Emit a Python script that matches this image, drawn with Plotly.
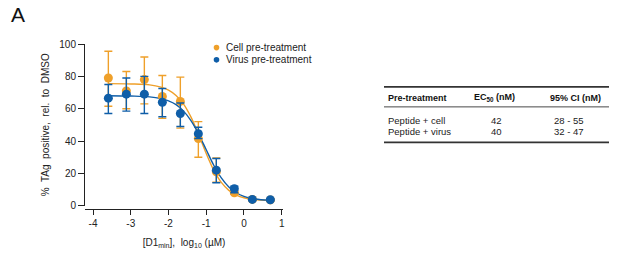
import plotly.graph_objects as go

# ---------------- data ----------------
log_conc = [-3.594, -3.117, -2.640, -2.163, -1.686, -1.209, -0.732, -0.255, 0.222, 0.699]

cell_mean = [79.0, 71.0, 78.0, 67.5, 64.5, 41.5, 21.0, 8.0, 3.9, 3.6]
cell_hi = [95.5, 83.0, 92.0, 80.5, 79.5, 52.0, 29.5, 9.0, 4.4, 4.0]
cell_lo = [61.5, 60.0, 63.0, 54.0, 48.0, 30.0, 14.5, 7.0, 3.4, 3.2]

virus_mean = [66.5, 69.0, 69.0, 64.0, 57.0, 44.5, 22.0, 10.5, 3.9, 3.7]
virus_hi = [75.0, 79.0, 80.0, 72.5, 63.5, 48.5, 29.2, 12.0, 4.4, 4.2]
virus_lo = [57.0, 58.5, 57.0, 55.0, 49.0, 41.5, 14.2, 8.0, 3.4, 3.2]

# fitted curves
fit_x = [-3.6, -3.0, -2.5, -2.2, -2.0, -1.8, -1.6, -1.4, -1.2, -1.0, -0.8, -0.6, -0.4, -0.2, 0.0, 0.2, 0.45, 0.7]
cell_fit = [75.5, 75.3, 74.7, 73.3, 71.5, 68.2, 62.8, 54.6, 43.9, 32.3, 22.0, 14.4, 9.5, 6.6, 4.9, 4.0, 3.5, 3.2]
virus_fit = [68.0, 67.8, 67.3, 66.2, 64.8, 62.5, 58.5, 52.4, 44.2, 34.6, 25.0, 17.2, 11.6, 8.0, 5.8, 4.6, 3.7, 3.35]

series_names = ["Cell pre-treatment", "Virus pre-treatment"]
x_tick_vals = [-4, -3, -2, -1, 0, 1]
x_tick_text = ["-4", "-3", "-2", "-1", "0", "1"]
y_tick_vals = [0, 20, 40, 60, 80, 100]

table_header = ["Pre-treatment", "EC<sub>50</sub> (nM)", "95% CI (nM)"]
table_rows = [["Peptide + cell", "42", "28 - 55"],
              ["Peptide + virus", "40", "32 - 47"]]

# ---------------- style ----------------
ORANGE = "#EFA02A"
BLUE = "#0F5EA8"
FONT = "Liberation Sans, Arial, sans-serif"
W, H = 617, 254
L, R, T, B = 85, 283, 43.7, 209.0
Y0_PX = 205.7  # pixel of y=0


def px_x(px):
    return (px - L) / (R - L)


def px_y(py):
    return (B - py) / (B - T)


fig = go.Figure()

for fy, col in [(cell_fit, ORANGE), (virus_fit, BLUE)]:
    fig.add_trace(go.Scatter(x=fit_x, y=fy, mode="lines", line=dict(color=col, width=1.4, shape="spline"),
                             showlegend=False, hoverinfo="skip"))

for mean, hi, lo, col, name in [(cell_mean, cell_hi, cell_lo, ORANGE, series_names[0]),
                                (virus_mean, virus_hi, virus_lo, BLUE, series_names[1])]:
    fig.add_trace(go.Scatter(
        x=log_conc, y=mean, mode="markers", name=name,
        marker=dict(color=col, size=9),
        error_y=dict(type="data", symmetric=False,
                     array=[h - m for h, m in zip(hi, mean)],
                     arrayminus=[m - l for m, l in zip(mean, lo)],
                     color=col, thickness=1.4, width=4),
        showlegend=False))

shapes = []
annotations = []

# manual legend
for i, (name, col) in enumerate(zip(series_names, [ORANGE, BLUE])):
    py = 47.3 + i * 12.3
    shapes.append(dict(type="circle", xref="paper", yref="paper", xsizemode="pixel", ysizemode="pixel",
                       xanchor=px_x(216.5), yanchor=px_y(py), x0=-2.8, x1=2.8, y0=-2.8, y1=2.8,
                       fillcolor=col, line=dict(width=0)))
    annotations.append(dict(xref="paper", yref="paper", x=px_x(224), y=px_y(py), text=name, showarrow=False,
                            xanchor="left", yanchor="middle", font=dict(size=10, color="#222", family=FONT)))

# table
tx0, tx1 = 384, 609
for py, w in [(86.7, 1.6), (106.7, 0.9), (142.3, 1.6)]:
    shapes.append(dict(type="line", xref="paper", yref="paper", x0=px_x(tx0), x1=px_x(tx1),
                       y0=px_y(py), y1=px_y(py), line=dict(color="#333", width=w)))
col_x = [(386, "left"), (495, "center"), (575, "center")]
val_x = [(386, "left"), (496, "center"), (569, "center")]
for (cx, anc), txt in zip(col_x, table_header):
    annotations.append(dict(xref="paper", yref="paper", x=px_x(cx), y=px_y(97.3), text="<b>" + txt + "</b>",
                            showarrow=False, xanchor=anc, yanchor="middle",
                            font=dict(size=9, color="#111", family=FONT)))
for r, row in enumerate(table_rows):
    py = 120.0 + r * 11.7
    for (cx, anc), txt in zip(val_x, row):
        annotations.append(dict(xref="paper", yref="paper", x=px_x(cx), y=px_y(py), text=txt,
                                showarrow=False, xanchor=anc, yanchor="middle",
                                font=dict(size=9.5, color="#222", family=FONT)))

# panel label
annotations.append(dict(xref="paper", yref="paper", x=px_x(9), y=px_y(14), text="A", showarrow=False,
                        xanchor="left", yanchor="middle", font=dict(size=21, color="#111", family=FONT)))

fig.update_layout(
    width=W, height=H,
    margin=dict(l=L, r=W - R, t=T, b=H - B, pad=0, autoexpand=False),
    paper_bgcolor="white", plot_bgcolor="white",
    font=dict(family=FONT, size=10, color="#222"),
    shapes=shapes, annotations=annotations,
    xaxis=dict(range=[-4.213, 1.035], tickvals=x_tick_vals, ticktext=x_tick_text, automargin=False,
               showline=True, linecolor="#222", linewidth=1, ticks="outside", ticklen=5, tickwidth=1,
               tickcolor="#222", showgrid=False, zeroline=False, anchor="free", position=0,
               tickfont=dict(size=10),
               title=dict(text="[D1<sub>min</sub>],  log<sub>10</sub> (µM)", font=dict(size=10), standoff=10)),
    yaxis=dict(range=[0, 100], domain=[(B - Y0_PX) / (B - T), 1], tickvals=y_tick_vals, automargin=False,
               showline=True, linecolor="#222", linewidth=1, ticks="outside", ticklen=6, tickwidth=1,
               tickcolor="#222", showgrid=False, zeroline=False, tickfont=dict(size=10),
               title=dict(text="%  TAg  positive,  rel.  to  DMSO", font=dict(size=10), standoff=7)),
)

fig.write_html("out.html", config={"displayModeBar": False},
               post_script="document.body.style.margin='0';document.body.style.padding='0';")
